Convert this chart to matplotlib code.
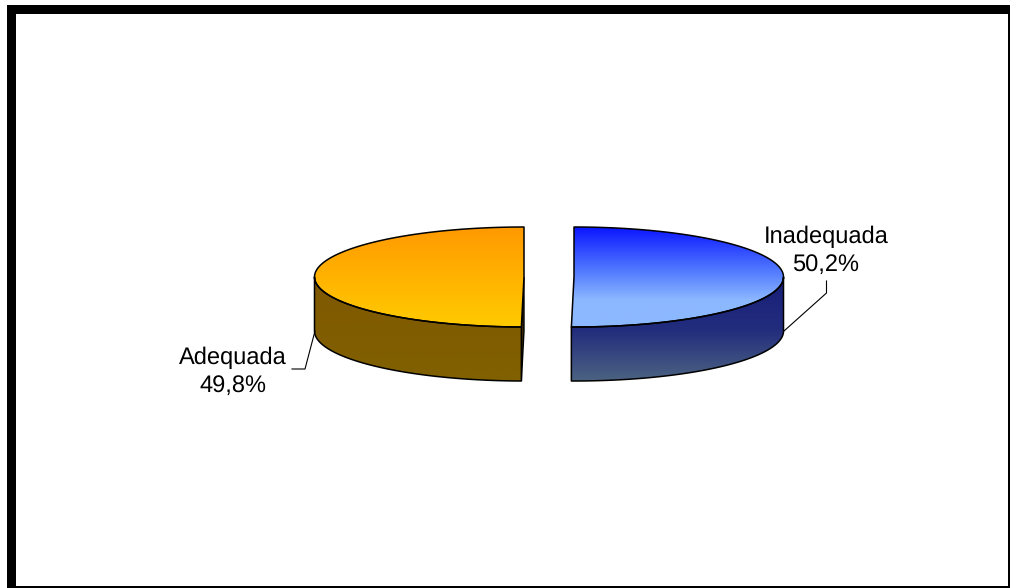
# pie3d.py ----
# Exploded 3D style pie, two slices with gradient fills

import numpy as np
import matplotlib
matplotlib.use('Agg')
import matplotlib.pyplot as plt
from matplotlib.patches import Polygon, Rectangle

# Data ----
labels = ['Inadequada', 'Adequada']
values = [50.2, 49.8]
value_labels = ['50,2%', '49,8%']

# Geometry in pixels of the picture
center_x = [574, 524]
center_y = 277
rx = 209.5
ry = 50
depth = 54

plt.rcParams['font.family'] = ['Liberation Sans', 'DejaVu Sans']
plt.rcParams['text.hinting'] = 'none'

fig = plt.figure(figsize=(10.1, 5.88), dpi=100)
ax = fig.add_axes([0, 0, 1, 1])
ax.set_xlim(0, 1010)
ax.set_ylim(588, 0)
ax.axis('off')


def arc(cx, cy, a0, a1, n=200):
    # angles are clockwise from 12 o'clock, in degrees
    t = np.radians(np.linspace(a0, a1, n))
    return np.column_stack([cx + rx * np.sin(t), cy - ry * np.cos(t)])


def gradient_fill(points, y0, y1, ys, cols):
    # vertical gradient clipped to a polygon
    cols = np.array(cols) / 255
    yy = np.linspace(y0, y1, 256)
    img = np.stack([np.interp(yy, ys, cols[:, i]) for i in range(3)], axis=1)[:, None, :]
    xmin, xmax = points[:, 0].min() - 2, points[:, 0].max() + 2
    im = ax.imshow(img, extent=[xmin, xmax, y1, y0], aspect='auto', zorder=2, interpolation='bilinear')
    outline = Polygon(points, closed=True, facecolor='none', edgecolor='black', linewidth=1.1, zorder=3,
                      joinstyle='round')
    ax.add_patch(outline)
    im.set_clip_path(outline)


# Slice angles ----
end_first = 360 * values[0] / sum(values)

# Right slice (Inadequada)
cx = center_x[0]
top = np.vstack([[[cx, center_y]], arc(cx, center_y, 0, end_first)])
side_top = arc(cx, center_y, 90, end_first)
side = np.vstack([side_top, side_top[::-1] + [0, depth]])
gradient_fill(side, 276, 382, [276, 330, 382], [(22, 30, 120), (35, 45, 125), (76, 100, 130)])
gradient_fill(top, 226, 328, [226, 270, 300, 328],
              [(10, 20, 255), (80, 120, 255), (140, 184, 255), (140, 184, 255)])

# Left slice (Adequada)
cx = center_x[1]
top = np.vstack([[[cx, center_y]], arc(cx, center_y, end_first, 360)])
side_top = arc(cx, center_y, end_first, 270)
side = np.vstack([side_top, side_top[::-1] + [0, depth]])
edge = top[1]
cut = np.array([[cx, center_y], edge, edge + [0, depth], [cx, center_y + depth]])
ax.add_patch(Polygon(cut, closed=True, facecolor='#403000', edgecolor='black', linewidth=1.0, zorder=1.5))
gradient_fill(side, 276, 382, [276, 382], [(128, 88, 0), (128, 97, 0)])
gradient_fill(top, 226, 328, [226, 328], [(255, 153, 0), (255, 204, 0)])

# Leader lines ----
ax.plot([784, 826.5, 826.5], [331, 293, 281], color='black', linewidth=0.8, zorder=4)
ax.plot([315, 305, 292], [331, 369, 369], color='black', linewidth=0.8, zorder=4)

# Labels ----
ax.text(826, 236.5, labels[0], fontsize=17, ha='center', va='center', color='black', zorder=5)
ax.text(826, 264.5, value_labels[0], fontsize=17, ha='center', va='center', color='black', zorder=5)
ax.text(232.5, 358, labels[1], fontsize=17, ha='center', va='center', color='black', zorder=5)
ax.text(232.5, 386, value_labels[1], fontsize=17, ha='center', va='center', color='black', zorder=5)

# Outer frame ----
ax.add_patch(Rectangle((7, 5), 9, 583, facecolor='black', edgecolor='none', zorder=6))
ax.add_patch(Rectangle((7, 5), 1003, 8.5, facecolor='black', edgecolor='none', zorder=6))
ax.add_patch(Rectangle((1008, 5), 2, 583, facecolor='black', edgecolor='none', zorder=6))
ax.add_patch(Rectangle((7, 586), 1003, 2, facecolor='black', edgecolor='none', zorder=6))

ax.set_xlim(0, 1010)
ax.set_ylim(588, 0)

fig.savefig('out.png', dpi=100)
